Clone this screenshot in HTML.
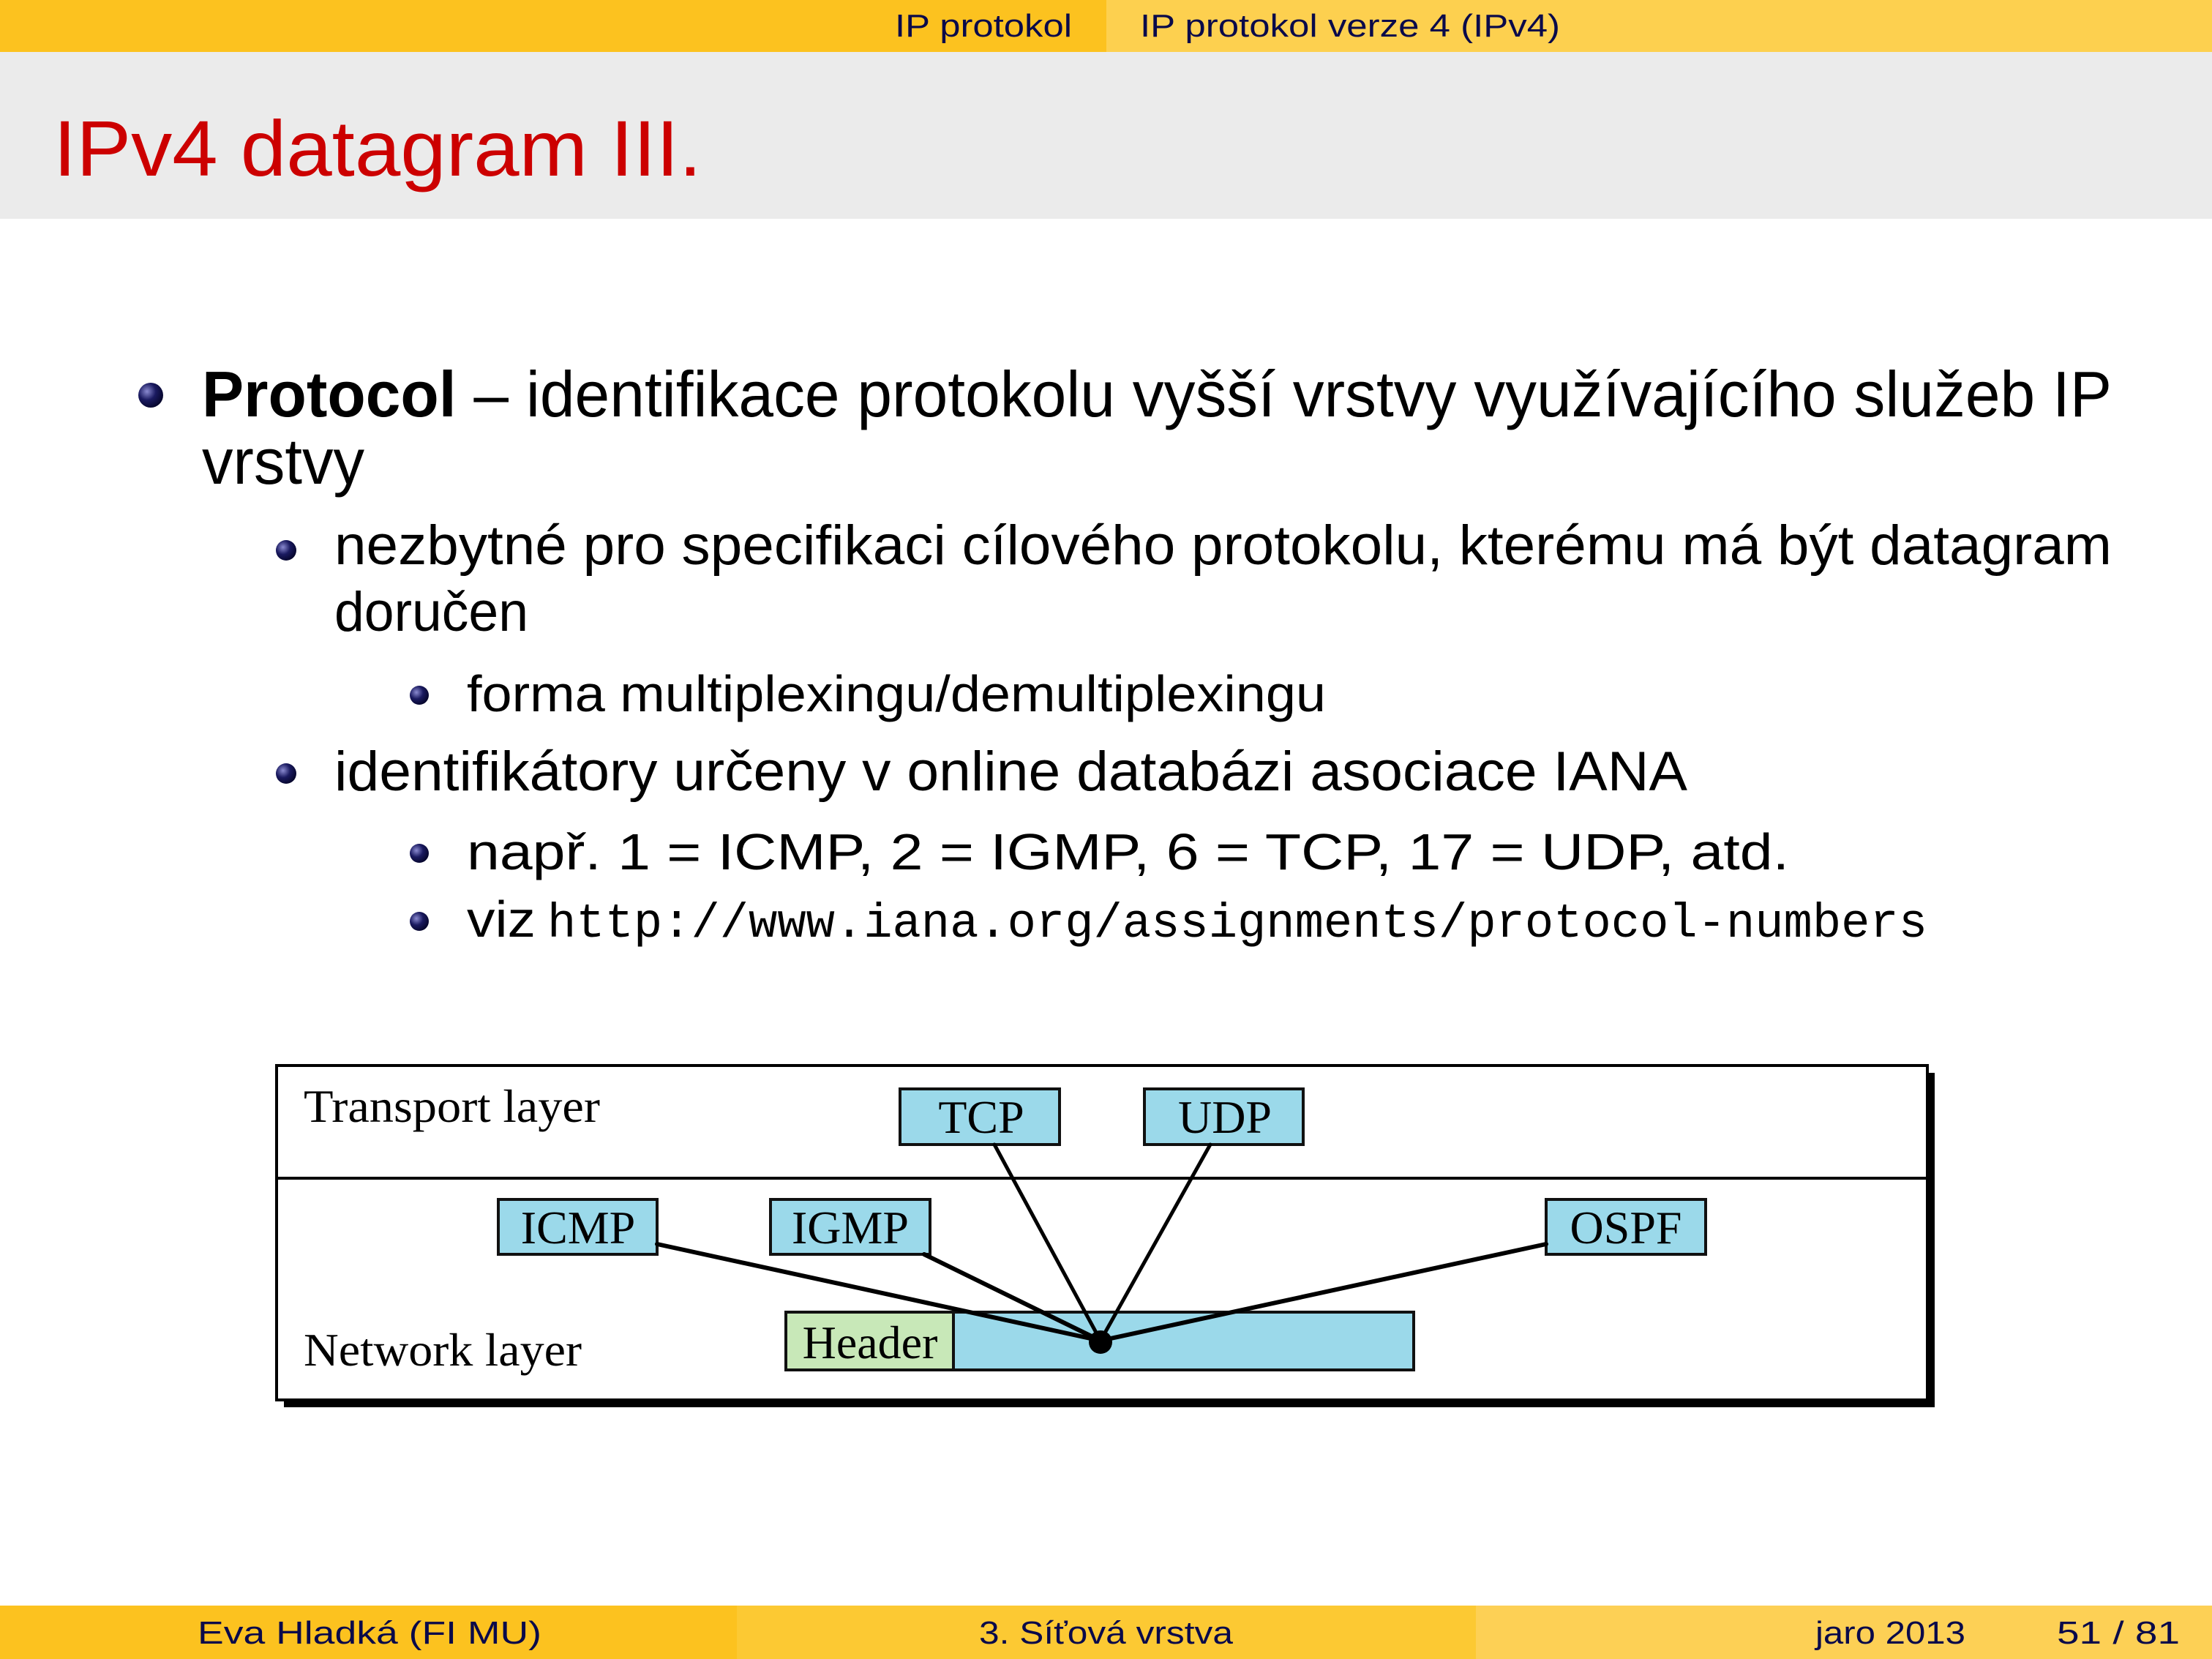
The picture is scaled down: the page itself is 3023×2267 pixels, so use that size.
<!DOCTYPE html>
<html><head><meta charset="utf-8"><style>
html,body{margin:0;padding:0;background:#fff;}
svg{display:block;}
</style></head><body>
<svg width="3023" height="2267" viewBox="0 0 3023 2267" xmlns="http://www.w3.org/2000/svg">
<defs>
<radialGradient id="ball" cx="0.35" cy="0.35" r="0.7">
<stop offset="0" stop-color="#8a8ad0"/><stop offset="0.5" stop-color="#1a1a60"/><stop offset="1" stop-color="#05052a"/>
</radialGradient>
</defs>
<!-- header -->
<rect x="0" y="0" width="1512" height="71" fill="#fcc21f"/>
<rect x="1512" y="0" width="1511" height="71" fill="#fdd04f"/>
<g font-family="Liberation Sans, DejaVu Sans, sans-serif" font-size="44" fill="#0a0a4a">
<text x="1465" y="50" text-anchor="end" textLength="242" lengthAdjust="spacingAndGlyphs">IP protokol</text>
<text x="1558" y="50" textLength="574" lengthAdjust="spacingAndGlyphs">IP protokol verze 4 (IPv4)</text>
</g>
<rect x="0" y="71" width="3023" height="228" fill="#ebebeb"/>
<text x="73" y="240" font-family="Liberation Sans, DejaVu Sans, sans-serif" font-size="108" fill="#cc0000" textLength="886" lengthAdjust="spacingAndGlyphs">IPv4 datagram III.</text>

<!-- body -->
<g font-family="Liberation Sans, DejaVu Sans, sans-serif" fill="#000">
<circle cx="206" cy="540" r="17" fill="url(#ball)"/>
<text x="276" y="569" font-size="88" textLength="2610" lengthAdjust="spacingAndGlyphs"><tspan font-weight="bold">Protocol</tspan> – identifikace protokolu vyšší vrstvy využívajícího služeb IP</text>
<text x="276" y="661" font-size="88" textLength="222" lengthAdjust="spacingAndGlyphs">vrstvy</text>

<circle cx="391" cy="752" r="14" fill="url(#ball)"/>
<text x="457" y="771" font-size="76" textLength="2429" lengthAdjust="spacingAndGlyphs">nezbytné pro specifikaci cílového protokolu, kterému má být datagram</text>
<text x="457" y="862" font-size="76" textLength="265" lengthAdjust="spacingAndGlyphs">doručen</text>

<circle cx="573" cy="950" r="13" fill="url(#ball)"/>
<text x="638" y="972" font-size="70" textLength="1174" lengthAdjust="spacingAndGlyphs">forma multiplexingu/demultiplexingu</text>

<circle cx="391" cy="1057" r="14" fill="url(#ball)"/>
<text x="457" y="1080" font-size="76" textLength="1849" lengthAdjust="spacingAndGlyphs">identifikátory určeny v online databázi asociace IANA</text>

<circle cx="573" cy="1166" r="13" fill="url(#ball)"/>
<text x="638" y="1188" font-size="70" textLength="1807" lengthAdjust="spacingAndGlyphs">např. 1 = ICMP, 2 = IGMP, 6 = TCP, 17 = UDP, atd.</text>

<circle cx="573" cy="1259" r="13" fill="url(#ball)"/>
<text x="638" y="1280" font-size="70" textLength="94" lengthAdjust="spacingAndGlyphs">viz</text>
<text x="748" y="1280" font-size="66" font-family="Liberation Mono, DejaVu Sans Mono, monospace" textLength="1886" lengthAdjust="spacingAndGlyphs">http://www.iana.org/assignments/protocol-numbers</text>
</g>

<!-- diagram -->
<rect x="388" y="1466" width="2256" height="457" fill="#000"/>
<rect x="378" y="1456" width="2256" height="457" fill="#fff" stroke="#000" stroke-width="4"/>
<line x1="378" y1="1610" x2="2634" y2="1610" stroke="#000" stroke-width="4"/>
<g font-family="Liberation Serif, DejaVu Serif, serif" font-size="64" fill="#000">
<text x="415" y="1533" textLength="405" lengthAdjust="spacingAndGlyphs">Transport layer</text>
<text x="415" y="1866" textLength="380" lengthAdjust="spacingAndGlyphs">Network layer</text>
</g>
<g stroke="#111" stroke-width="4" fill="#9bd9ea">
<rect x="1230" y="1488" width="218" height="76"/>
<rect x="1564" y="1488" width="217" height="76"/>
<rect x="681" y="1639" width="217" height="75"/>
<rect x="1053" y="1639" width="218" height="75"/>
<rect x="2113" y="1639" width="218" height="75"/>
<rect x="1303" y="1793" width="629" height="79"/>
<rect x="1074" y="1793" width="229" height="79" fill="#c8e8b8"/>
</g>
<g stroke="#000" stroke-linecap="round">
<line x1="1359" y1="1564" x2="1504" y2="1832" stroke-width="5"/>
<line x1="1654" y1="1564" x2="1504" y2="1832" stroke-width="5"/>
<line x1="1263" y1="1714" x2="1504" y2="1832" stroke-width="6"/>
<line x1="898" y1="1700" x2="1504" y2="1832" stroke-width="6"/>
<line x1="2113" y1="1700" x2="1504" y2="1832" stroke-width="6"/>
</g>
<circle cx="1504" cy="1834" r="16" fill="#000"/>
<g font-family="Liberation Serif, DejaVu Serif, serif" font-size="64" fill="#000" text-anchor="middle">
<text x="1341" y="1548">TCP</text>
<text x="1674" y="1548">UDP</text>
<text x="790" y="1699">ICMP</text>
<text x="1162" y="1699">IGMP</text>
<text x="2222" y="1699">OSPF</text>
<text x="1189" y="1856">Header</text>
</g>

<!-- footer -->
<rect x="0" y="2194" width="1007" height="73" fill="#fcc21f"/>
<rect x="1007" y="2194" width="1010" height="73" fill="#fcc933"/>
<rect x="2017" y="2194" width="1006" height="73" fill="#fdd055"/>
<g font-family="Liberation Sans, DejaVu Sans, sans-serif" font-size="44" fill="#0a0a4a">
<text x="270" y="2246" textLength="470" lengthAdjust="spacingAndGlyphs">Eva Hladká  (FI MU)</text>
<text x="1338" y="2246" textLength="347" lengthAdjust="spacingAndGlyphs">3. Síťová vrstva</text>
<text x="2481" y="2246" textLength="205" lengthAdjust="spacingAndGlyphs">jaro 2013</text>
<text x="2811" y="2246" textLength="168" lengthAdjust="spacingAndGlyphs">51 / 81</text>
</g>
</svg>
</body></html>
